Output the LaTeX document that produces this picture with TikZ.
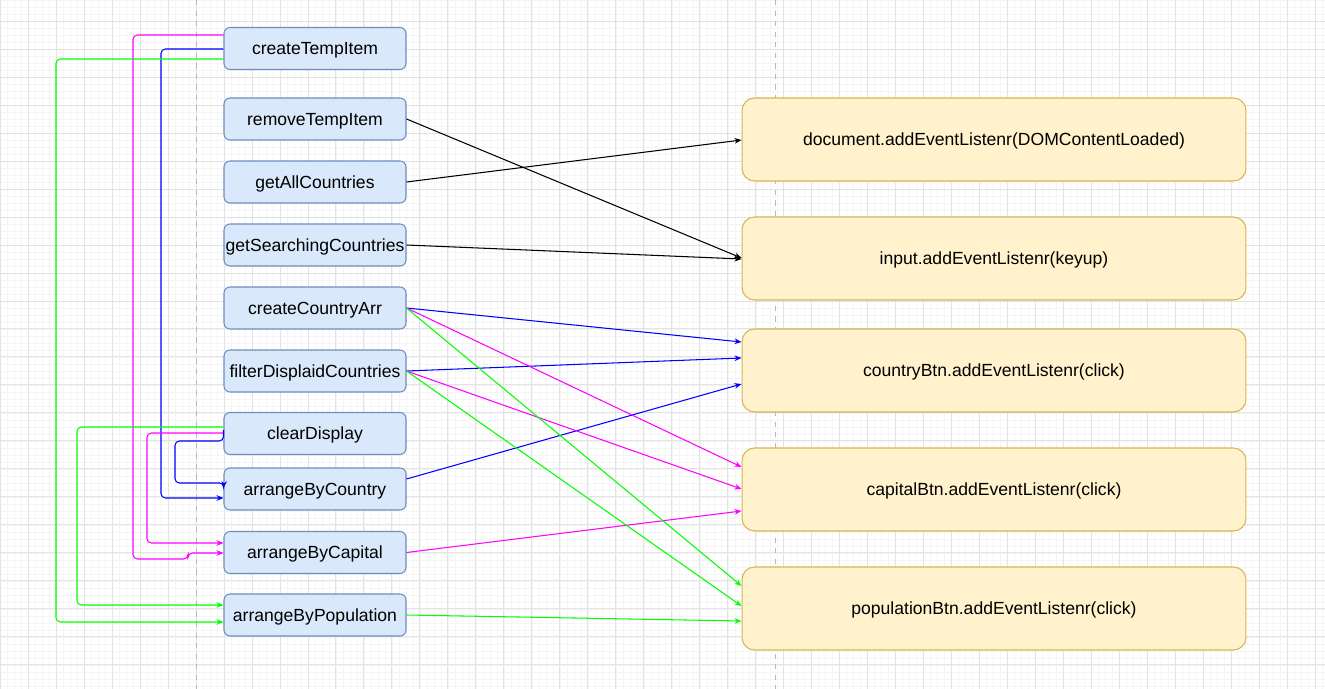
\documentclass[tikz,border=0pt]{standalone}
\usepackage{fontspec}
\setmainfont{Liberation Sans}
\usetikzlibrary{arrows.meta}

\definecolor{fnfill}{HTML}{DAE8FC}
\definecolor{fnline}{HTML}{6C8EBF}
\definecolor{evfill}{HTML}{FFF2CC}
\definecolor{evline}{HTML}{D6B656}
\definecolor{blueln}{HTML}{0000FF}
\definecolor{pinkln}{HTML}{FF00FF}
\definecolor{greenln}{HTML}{00FF00}

\tikzset{
  fnbox/.style={draw=fnline, fill=fnfill, line width=0.6pt, rounded corners=0.12cm,
    minimum width=3.64cm, minimum height=0.84cm, inner sep=0pt,
    text height=7pt, text depth=0pt, font=\fontsize{10}{12}\selectfont},
  evbox/.style={draw=evline, fill=evfill, line width=0.6pt, rounded corners=0.25cm,
    minimum width=10.08cm, minimum height=1.66cm, inner sep=0pt,
    text height=7pt, text depth=0pt, font=\fontsize{10}{12}\selectfont},
  link/.style={line width=0.6pt, -{Stealth[length=4pt,width=3.2pt]}},
  route/.style={link, rounded corners=2.5pt},
  minorgrid/.style={draw=black!4, line width=0.4pt},
  majorgrid/.style={draw=black!11, line width=0.5pt},
  guide/.style={draw=black!28, dashed, line width=0.5pt}
}

\begin{document}
\begin{tikzpicture}[x=0.02cm, y=-0.02cm]
            \useasboundingbox (0,0) rectangle (1325,689);
            \fill[white] (0,0) rectangle (1325,689);
            % background grid
            \begin{scope}
                \clip (0,0) rectangle (1325,689);
                \draw[minorgrid, step=0.14cm] (0,689) grid (1325,0);
                \draw[majorgrid, step=0.56cm, yshift=-0.42cm] (0,720) grid (1325,-30);
                \draw[guide] (196,0) -- (196,689)
                             (775,0) -- (775,689);
            \end{scope}
            % functions
            \draw (315,48.5) node[fnbox] (ctemp) {createTempItem};
            \draw (315,119) node[fnbox] (rtemp) {removeTempItem};
            \draw (315,182) node[fnbox] (gall) {getAllCountries};
            \draw (315,245) node[fnbox] (gsearch) {getSearchingCountries};
            \draw (315,308) node[fnbox] (carr) {createCountryArr};
            \draw (315,371) node[fnbox] (filt) {filterDisplaidCountries};
            \draw (315,433.5) node[fnbox] (clr) {clearDisplay};
            \draw (315,489) node[fnbox] (byctry) {arrangeByCountry};
            \draw (315,552.5) node[fnbox] (bycap) {arrangeByCapital};
            \draw (315,615) node[fnbox] (bypop) {arrangeByPopulation};
            % listeners
            \draw (994,139.5) node[evbox] (domload) {document.addEventListenr(DOMContentLoaded)};
            \draw (994,258.5) node[evbox] (keyup) {input.addEventListenr(keyup)};
            \draw (994,370.5) node[evbox] (ctrybtn) {countryBtn.addEventListenr(click)};
            \draw (994,489.5) node[evbox] (capbtn) {capitalBtn.addEventListenr(click)};
            \draw (994,608.5) node[evbox] (popbtn) {populationBtn.addEventListenr(click)};
            % calls into listeners
            \draw (rtemp.east) edge[link] (keyup.west |- 0,258)
                  (gall.east) edge[link] (domload.west |- 0,140)
                  (gsearch.east) edge[link] (keyup.west |- 0,259);
            \draw[blueln] (carr.east) edge[link] (ctrybtn.west |- 0,342)
                  (filt.east) edge[link] (ctrybtn.west |- 0,358)
                  (byctry.east |- 0,479) edge[link] (ctrybtn.west |- 0,384);
            \draw[pinkln] (carr.east) edge[link] (capbtn.west |- 0,467)
                  (filt.east) edge[link] (capbtn.west |- 0,489)
                  (bycap.east) edge[link] (capbtn.west |- 0,511);
            \draw[greenln] (carr.east) edge[link] (popbtn.west |- 0,586)
                  (filt.east) edge[link] (popbtn.west |- 0,606)
                  (bypop.east) edge[link] (popbtn.west |- 0,621);
            % calls between functions
            \draw[route, pinkln] (ctemp.west |- 0,35) -- (133,35) -- (133,559) -- (188,559)
                  -- (188,553) -- (bycap.west |- 0,553);
            \draw[route, blueln] (ctemp.west |- 0,49) -- (161,49) -- (161,498)
                  -- (byctry.west |- 0,498);
            \draw[route, greenln] (ctemp.west |- 0,59) -- (56,59) -- (56,622)
                  -- (bypop.west |- 0,622);
            \draw[route, greenln] (clr.west |- 0,427) -- (77,427) -- (77,605)
                  -- (bypop.west |- 0,605);
            \draw[route, pinkln] (clr.west |- 0,433) -- (147,433) -- (147,543)
                  -- (bycap.west |- 0,543);
            \draw[route, blueln] (clr.west |- 0,430) -- (clr.west |- 0,441) -- (175,441)
                  -- (175,483) -- (224,483) -- (byctry.west |- 0,488);
        \end{tikzpicture}
\end{document}
